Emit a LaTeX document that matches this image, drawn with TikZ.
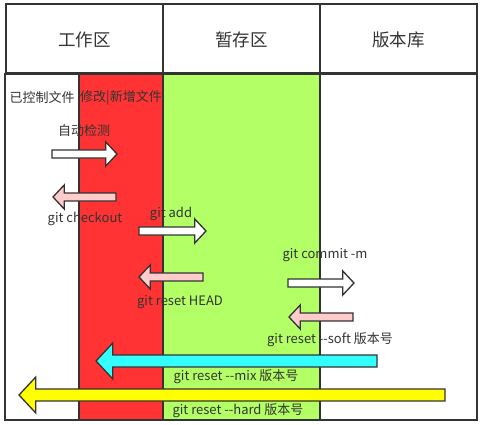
\documentclass[tikz,border=0pt]{standalone}
\usepackage{fontspec}
\newfontfamily\cnfont{Noto Sans CJK SC}
\usetikzlibrary{positioning,calc}
\definecolor{gitdark}{HTML}{333333}
\definecolor{gitred}{HTML}{FF3333}
\definecolor{gitgreen}{HTML}{B3FF66}
\definecolor{gitcyan}{HTML}{33FFFF}
\definecolor{gityellow}{HTML}{FFFF00}
\definecolor{gitpink}{HTML}{FFCCCC}

% block arrow: [shaft] {from x}{to x}{y}{fill}
\newcommand{\blockarrow}[5][8]{%
  \pgfmathsetmacro{\neckx}{#3-sign(#3-#2)*1.4*#1}
  \draw[arrowline, fill=#5] (#2,#4-#1/2) -- (\neckx,#4-#1/2) -- (\neckx,#4-1.5*#1)
    -- (#3,#4) -- (\neckx,#4+1.5*#1) -- (\neckx,#4+#1/2) -- (#2,#4+#1/2) -- cycle;}

\begin{document}
\begin{tikzpicture}[x=1pt, y=-1pt,
  every node/.style={font=\cnfont\fontsize{13}{15}\selectfont, text=gitdark, inner sep=0pt},
  box/.style={draw=gitdark, line width=1.6pt},
  headtext/.style={font=\cnfont\fontsize{17.5}{20}\selectfont},
  arrowline/.style={draw=gitdark, line width=1.3pt, line join=miter}]

  \useasboundingbox (0,0) rectangle (484,425);

  % ---- Header ----
  \draw[box] (6,4) rectangle (163,73);
  \draw[box] (163,4) rectangle (320,73);
  \draw[box] (320,4) rectangle (477,73);
  \node[headtext] (work) at (84.5,40) {工作区};
  \node[headtext] (stage) at (241.5,40) {暂存区};
  \node[headtext] (repo) at (398.5,40) {版本库};

  % ---- Columns ----
  \fill[gitred] (79,74) rectangle (163,420);
  \fill[gitgreen] (163,74) rectangle (320,420);
  \draw[box] (5,74) rectangle (477,420);
  \draw[box] (79,74) -- (79,420);
  \draw[box] (163,74) -- (163,420);
  \draw[box] (320,74) -- (320,420);

  \node (tracked) at (42,98) {已控制文件};
  \node (changed) at (121,98) {修改|新增文件};

  % ---- Working area ----
  \node (detect) at (84,131) {自动检测};
  \blockarrow{52}{117}{154}{white}
  \blockarrow{116}{53}{197}{gitpink}
  \node (checkout) at (85,219) {git checkout};

  % ---- Staging ----
  \node (add) at (171,214) {git add};
  \blockarrow{139}{206}{231}{white}
  \blockarrow{203}{139}{277}{gitpink}
  \node (resethead) at (180,302) {git reset HEAD};

  % ---- Repository ----
  \node (commit) at (325,255) {git commit -m};
  \blockarrow{288}{354}{283}{white}
  \blockarrow{353}{289}{317}{gitpink}
  \node (soft) at (330,340) {git reset --soft 版本号};

  % ---- Reset back ----
  \blockarrow[12]{377}{96}{361}{gitcyan}
  \node (mix) at (236,377) {git reset --mix 版本号};
  \blockarrow[12]{445}{19}{395}{gityellow}
  \node (hard) at (238,411) {git reset --hard 版本号};

\end{tikzpicture}
\end{document}
